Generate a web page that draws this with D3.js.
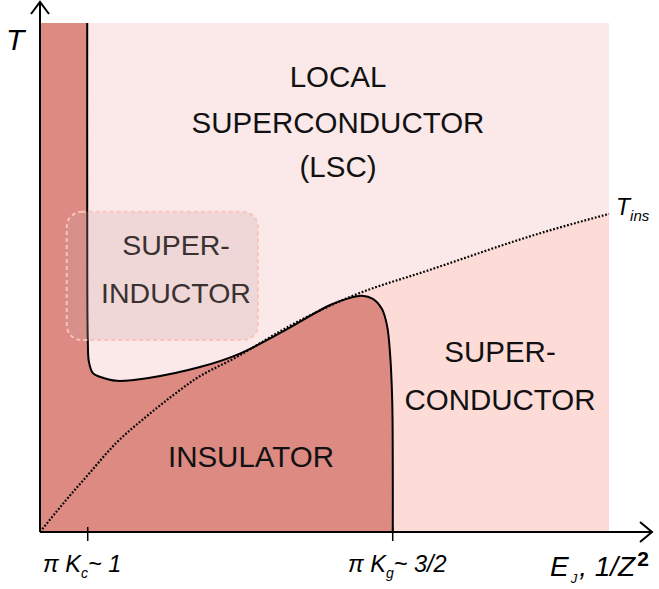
<!DOCTYPE html>
<html>
<head>
<meta charset="utf-8">
<script src="https://cdn.jsdelivr.net/npm/d3@7"></script>
<style>
    body { margin: 0; background: #fff; }
    svg text { font-family: "Liberation Sans", Arial, sans-serif; }
</style>
</head>
<body>
<div id="chart"></div>
<script>
// phase diagram, schematic units: E in [0,1], T in [0,1]
const boundaryE = [0.083, 0.083, 0.084, 0.086, 0.093, 0.105, 0.135, 0.193, 0.281, 0.346, 0.422, 0.510, 0.545, 0.566, 0.585, 0.601, 0.610, 0.615, 0.619, 0.620, 0.620];
const boundaryT = [1.000, 0.652, 0.377, 0.334, 0.312, 0.305, 0.297, 0.303, 0.324, 0.348, 0.391, 0.446, 0.460, 0.464, 0.458, 0.438, 0.405, 0.354, 0.259, 0.122, 0.000];

const tinsE = [0.000, 0.046, 0.081, 0.134, 0.186, 0.239, 0.271, 0.346, 0.439, 0.545, 0.685, 0.879, 1.000];
const tinsT = [0.000, 0.063, 0.108, 0.175, 0.226, 0.273, 0.299, 0.344, 0.405, 0.462, 0.515, 0.587, 0.625];

const peakE = 0.55;
const tickE = [0.083, 0.619];
const inductorBox = {e0: 0.047, e1: 0.383, t0: 0.377, t1: 0.629};

const width = 659, height = 589;
const margin = {top: 23, right: 50, bottom: 57, left: 40};

const svg = d3.select("#chart").append("svg")
    .attr("width", width)
    .attr("height", height);

const x = d3.scaleLinear().domain([0, 1]).range([margin.left, width - margin.right]);
const y = d3.scaleLinear().domain([0, 1]).range([height - margin.bottom, margin.top]);

const boundary = boundaryE.map((e, i) => [e, boundaryT[i]]);
const tins = tinsE.map((e, i) => [e, tinsT[i]]);

// LSC background
svg.append("rect")
    .attr("x", x(0))
    .attr("y", y(1))
    .attr("width", x(1) - x(0))
    .attr("height", y(0) - y(1))
    .attr("fill", "#fbe9e9");

// superconductor: below T_ins, right of the dome
svg.append("clipPath").attr("id", "scClip")
    .append("rect")
    .attr("x", x(peakE))
    .attr("y", y(1))
    .attr("width", x(1) - x(peakE))
    .attr("height", y(0) - y(1));

svg.append("path")
    .datum(tins)
    .attr("clip-path", "url(#scClip)")
    .attr("fill", "#fddcd8")
    .attr("d", d3.area()
        .x(d => x(d[0]))
        .y0(y(0))
        .y1(d => y(d[1]))
        .curve(d3.curveMonotoneX));

// insulator (left strip + dome)
const bLine = d3.line()
    .x(d => x(d[0]))
    .y(d => y(d[1]))
    .curve(d3.curveCatmullRom.alpha(0.5));

svg.append("path")
    .attr("fill", "#dc8a82")
    .attr("d", bLine(boundary) + "L" + x(0) + "," + y(0) + "L" + x(0) + "," + y(1) + "Z");

svg.append("path")
    .datum(boundary)
    .attr("fill", "none")
    .attr("stroke", "#000")
    .attr("stroke-width", 2)
    .attr("d", bLine);

// T_ins dotted
svg.append("path")
    .datum(tins)
    .attr("fill", "none")
    .attr("stroke", "#000")
    .attr("stroke-width", 2.2)
    .attr("stroke-dasharray", "1.8,1.8")
    .attr("d", d3.line()
        .x(d => x(d[0]))
        .y(d => y(d[1]))
        .curve(d3.curveMonotoneX));

// super-inductor box
svg.append("rect")
    .attr("x", x(inductorBox.e0))
    .attr("y", y(inductorBox.t1))
    .attr("width", x(inductorBox.e1) - x(inductorBox.e0))
    .attr("height", y(inductorBox.t0) - y(inductorBox.t1))
    .attr("rx", 15)
    .attr("fill", "rgba(205,165,165,0.25)")
    .attr("stroke", "#fbc3bb")
    .attr("stroke-width", 2)
    .attr("stroke-dasharray", "4,3");

// region labels
function label(lines, cx, baselines, size, color) {
    lines.forEach((t, i) => {
        svg.append("text")
            .attr("x", cx)
            .attr("y", baselines[i])
            .attr("text-anchor", "middle")
            .attr("font-size", size)
            .attr("fill", color)
            .text(t);
    });
}
label(["LOCAL", "SUPERCONDUCTOR", "(LSC)"], 338, [87, 133, 177], 29.5, "#111");
label(["SUPER-", "INDUCTOR"], 176, [255, 303], 28.5, "#3a3131");
label(["SUPER-", "CONDUCTOR"], 500, [362, 410], 29.5, "#111");
label(["INSULATOR"], 251, [467], 29.5, "#111");

// axes
const axisG = svg.append("g")
    .attr("transform", "translate(0," + y(0) + ")")
    .call(d3.axisBottom(x).tickValues(tickE).tickFormat("").tickSize(9).tickSizeOuter(0));
axisG.select(".domain").remove();
axisG.selectAll(".tick line").attr("stroke", "#000").attr("stroke-width", 1.5).attr("y1", -5);

const ax = svg.append("g").attr("stroke", "#000").attr("stroke-width", 2).attr("fill", "none");
ax.append("line").attr("x1", x(0)).attr("y1", y(0)).attr("x2", 652).attr("y2", y(0));
ax.append("path").attr("d", "M640," + (y(0) - 10) + "L652," + y(0) + "L640," + (y(0) + 10));
ax.append("line").attr("x1", x(0)).attr("y1", y(0)).attr("x2", x(0)).attr("y2", 2);
ax.append("path").attr("d", "M" + (x(0) - 9) + ",14L" + x(0) + ",2L" + (x(0) + 9) + ",14");

// axis labels
svg.append("text")
    .attr("x", 6).attr("y", 50)
    .attr("font-size", 30).attr("font-style", "italic")
    .text("T");

const tl = svg.append("text")
    .attr("x", 616).attr("y", 215)
    .attr("font-size", 23).attr("font-style", "italic");
tl.append("tspan").text("T");
tl.append("tspan").attr("font-size", 15).attr("dy", 6).text("ins");

const kc = svg.append("text")
    .attr("x", 43).attr("y", 572)
    .attr("font-size", 23.5).attr("font-style", "italic");
kc.append("tspan").text("\u03c0 K");
kc.append("tspan").attr("font-size", 14).attr("dy", 6).text("c");
kc.append("tspan").attr("dy", -6).text("~ 1");

const kg = svg.append("text")
    .attr("x", 348).attr("y", 572)
    .attr("font-size", 23.5).attr("font-style", "italic");
kg.append("tspan").text("\u03c0 K");
kg.append("tspan").attr("font-size", 14).attr("dy", 6).text("g");
kg.append("tspan").attr("dy", -6).text("~ 3/2");

const xl = svg.append("text")
    .attr("x", 550).attr("y", 576)
    .attr("font-size", 28).attr("font-style", "italic");
xl.append("tspan").text("E");
xl.append("tspan").attr("font-size", 13).attr("dx", 2).attr("dy", 7).text("J");
xl.append("tspan").attr("dx", 2).attr("dy", -7).text(", 1/Z");
xl.append("tspan").attr("font-size", 21).attr("font-weight", "bold").attr("font-style", "normal").attr("dx", 2).attr("dy", -10).text("2");
</script>
</body>
</html>
